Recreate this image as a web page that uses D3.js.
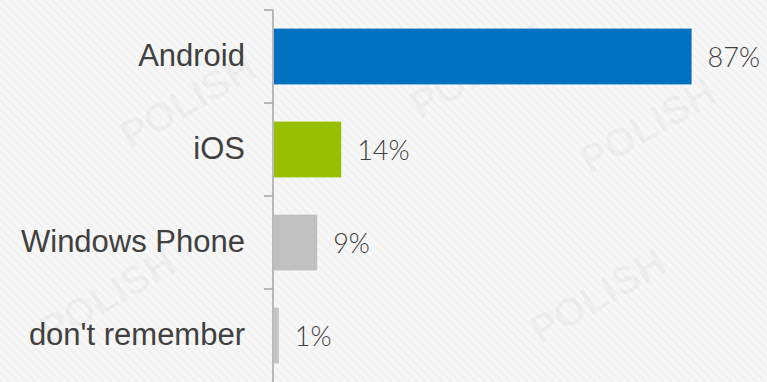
<!DOCTYPE html>
<html>
<head>
<meta charset="utf-8">
<script src="https://cdn.jsdelivr.net/npm/d3@7"></script>
<style>
  html, body { margin: 0; padding: 0; background: #f7f7f7; }
  svg { display: block; }
</style>
</head>
<body>
<svg id="chart" width="767" height="382"></svg>
<script>
const categories = ["Android", "iOS", "Windows Phone", "don't remember"];
const values = [87, 14, 9, 1];
const colors = ["#0070c0", "#99c000", "#c0c0c0", "#c4c4c4"];
const valueLabels = ["87%", "14%", "9%", "1%"];

const W = 767, H = 382;
const svg = d3.select("#chart");

// background with faint diagonal stripes
const defs = svg.append("defs");
const pat = defs.append("pattern")
  .attr("id", "stripes").attr("patternUnits", "userSpaceOnUse")
  .attr("width", 6).attr("height", 6)
  .attr("patternTransform", "rotate(-45)");
pat.append("rect").attr("width", 6).attr("height", 6).attr("fill", "#f7f7f7");
pat.append("rect").attr("width", 2).attr("height", 6).attr("fill", "#f1f1f1");
svg.append("rect").attr("width", W).attr("height", H).attr("fill", "url(#stripes)");

// faint watermarks
const wm = svg.append("g").attr("fill", "#000").attr("fill-opacity", 0.03)
  .attr("font-family", "Liberation Sans, Arial, sans-serif").attr("font-weight", "bold");
const wmPos = [[130, 150], [540, 345], [420, 120], [590, 175], [50, 345]];
wmPos.forEach(([x, y]) => {
  wm.append("text").attr("transform", `translate(${x},${y}) rotate(-30)`)
    .attr("font-size", 40).text("POLISH");
});

const x = d3.scaleLinear().domain([0, 100]).range([274, 754]);
const y = d3.scaleBand().domain(categories).range([10, 382]).paddingInner(0.4).paddingOuter(0.2);

// bars
svg.append("g").selectAll("rect").data(categories).join("rect")
  .attr("x", x(0))
  .attr("y", d => y(d))
  .attr("width", (d, i) => x(values[i]) - x(0))
  .attr("height", y.bandwidth())
  .attr("fill", (d, i) => colors[i]);

// axis
const axisG = svg.append("g").attr("transform", `translate(273,0)`);
axisG.append("line").attr("x1", 0).attr("x2", 0).attr("y1", 10).attr("y2", H)
  .attr("stroke", "#a6a6a6").attr("stroke-width", 1.5);
const step = y.step();
const tickYs = d3.range(categories.length).map(i => 10 + i * step);
axisG.selectAll("line.tick").data(tickYs).join("line").attr("class", "tick")
  .attr("x1", -9).attr("x2", 0).attr("y1", d => d).attr("y2", d => d)
  .attr("stroke", "#a6a6a6").attr("stroke-width", 1.5);

// category labels
svg.append("g").selectAll("text").data(categories).join("text")
  .attr("x", 245)
  .attr("y", d => y(d) + y.bandwidth() / 2 + 9.5)
  .attr("text-anchor", "end")
  .attr("font-family", "Liberation Sans, Arial, sans-serif")
  .attr("font-size", 31)
  .attr("fill", "#404040")
  .text(d => d);

// value labels
svg.append("g").selectAll("text").data(categories).join("text")
  .attr("x", (d, i) => x(values[i]) + 16)
  .attr("y", d => y(d) + y.bandwidth() / 2 + 10)
  .attr("font-family", "Lato, sans-serif")
  .attr("font-weight", 300)
  .attr("font-size", 27)
  .attr("fill", "#404040")
  .text((d, i) => valueLabels[i]);
</script>
</body>
</html>
